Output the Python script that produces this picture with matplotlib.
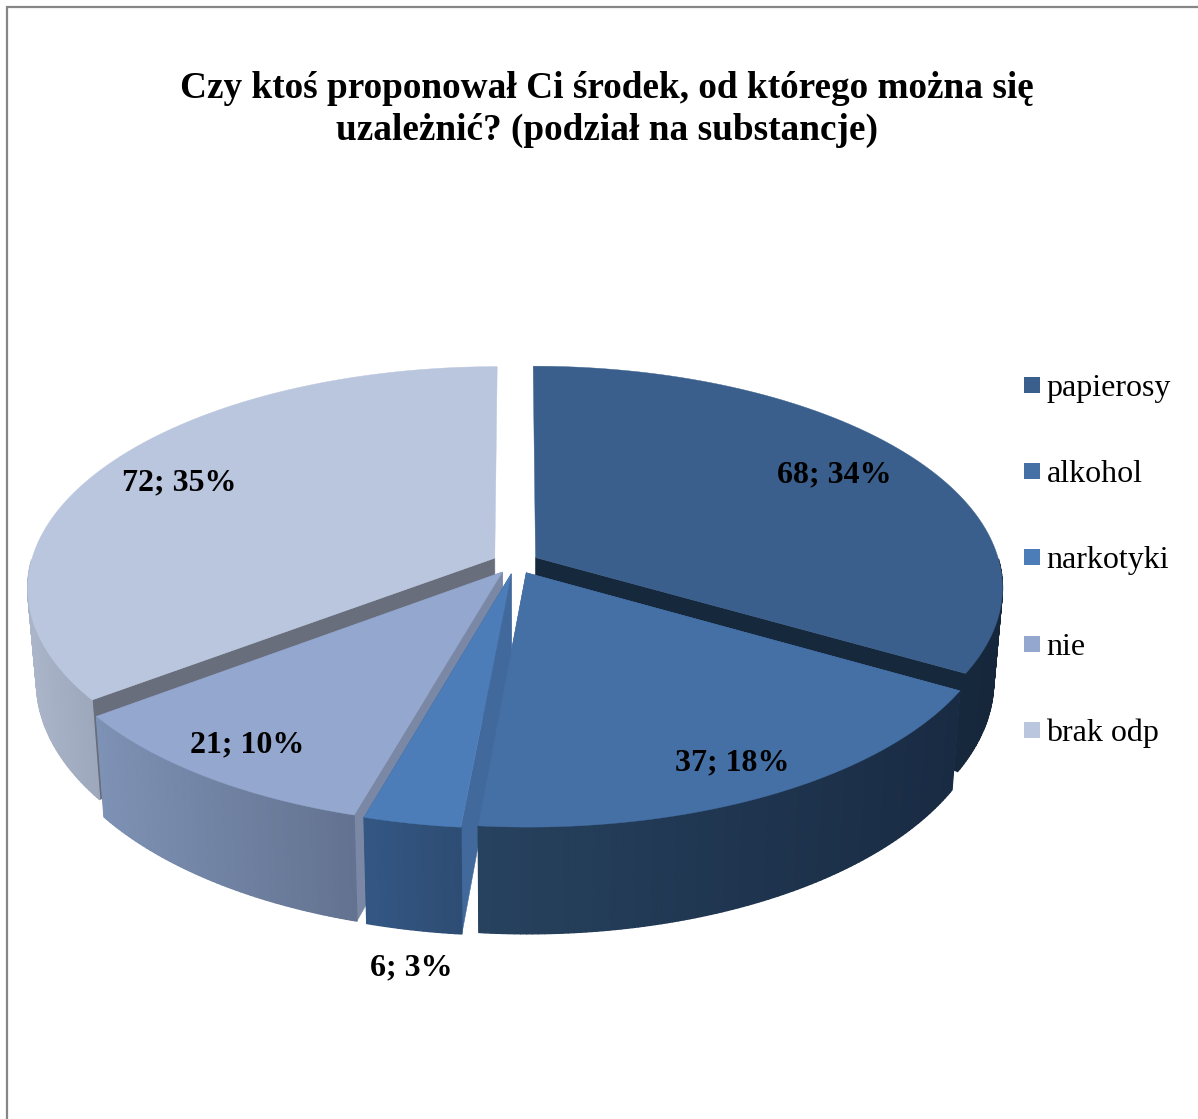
import numpy as np
import matplotlib
matplotlib.use("Agg")
import matplotlib.pyplot as plt
from matplotlib.collections import PolyCollection
from matplotlib.colors import to_rgb
from matplotlib.patches import Rectangle

title = "Czy ktoś proponował Ci środek, od którego można się\nuzależnić? (podział na substancje)"
categories = ["papierosy", "alkohol", "narkotyki", "nie", "brak odp"]
values = [68, 37, 6, 21, 72]
percents = [34, 18, 3, 10, 35]

top_colors = ["#3a5f8c", "#4570a6", "#4c7db8", "#93a7cf", "#b9c6de"]
side_left = ["#17283d", "#27425f", "#345784", "#7e92b5", "#aab5c9"]
side_right = ["#16273b", "#192b43", "#2e4d74", "#637290", "#9da8bc"]
face_colors = ["#16283c", "#3f6a9e", "#41699c", "#7b88a5", "#686e7b"]
draw_order = [0, 4, 3, 2, 1]
label_xy = [(834, 475), (732, 763), (411, 968), (247, 745), (179, 483)]
legend_y = [385, 471, 557, 644, 730]

CX, CY, A, B, P = 515.5, 563, 464, 218, 0.132
EXPLODE, DROP, TAPER = 0.05, 92, 0.982

plt.rcParams["font.family"] = ["Liberation Serif", "DejaVu Serif"]
fig = plt.figure(figsize=(11.98, 11.19), dpi=100)
ax = fig.add_axes([0, 0, 1, 1])
ax.set_xlim(0, 1198)
ax.set_ylim(1119, 0)
ax.axis("off")

# chart frame (left and top edges are what remains visible)
ax.plot([7, 7, 1198], [1119, 7, 7], color="#868686", lw=1.6, solid_joinstyle="miter")


def project(X, Y, bottom=False):
    s = 1 / (1 + P * Y)
    if bottom:
        return CX + TAPER * A * X * s, CY - B * Y * s + DROP * s
    return CX + A * X * s, CY - B * Y * s


edges = np.cumsum([0] + values) / sum(values) * 2 * np.pi

for layer, i in enumerate(draw_order):
    z = 2 + layer
    t0, t1 = edges[i], edges[i + 1]
    mid = (t0 + t1) / 2
    ox, oy = EXPLODE * np.sin(mid), EXPLODE * np.cos(mid)
    th = np.linspace(t0, t1, max(int((t1 - t0) * 90), 8))
    rx, ry = ox + np.sin(th), oy + np.cos(th)
    tx, ty = project(rx, ry)
    bx, by = project(rx, ry, True)
    ax_t, ay_t = project(ox, oy)
    ax_b, ay_b = project(ox, oy, True)

    # cut faces at the radial edges that can be seen from the front
    for j in (0, -1):
        if np.cos(th[j]) < 0.5:
            ax.fill([ax_t, tx[j], bx[j], ax_b], [ay_t, ty[j], by[j], ay_b],
                    color=face_colors[i], lw=0.4, zorder=z)

    # outer wall on the front part: solid base, then left-to-right shading
    c0, c1 = np.array(to_rgb(side_left[i])), np.array(to_rgb(side_right[i]))
    front = np.cos(th) < 0.0
    fx, fy, gx, gy = tx[front], ty[front], bx[front], by[front]
    ax.fill(np.r_[fx, gx[::-1]], np.r_[fy, gy[::-1]], color=(c0 + c1) / 2, lw=0, zorder=z + 0.1)
    quads, cols = [], []
    for k in range(len(fx) - 1):
        quads.append([(fx[k], fy[k]), (fx[k + 1], fy[k + 1]), (gx[k + 1], gy[k + 1]), (gx[k], gy[k])])
        f = np.clip((fx[k] - fx.min()) / max(fx.max() - fx.min(), 1), 0, 1)
        cols.append(c0 + (c1 - c0) * f)
    ax.add_collection(PolyCollection(quads, facecolors=cols, edgecolors=cols, linewidths=1.0, zorder=z + 0.2))

    # top surface
    ax.fill(np.r_[ax_t, tx], np.r_[ay_t, ty], color=top_colors[i], lw=0.3, zorder=z + 0.5)

for (x, y), v, p in zip(label_xy, values, percents):
    ax.text(x, y, f"{v}; {p}%", ha="center", va="center", fontsize=23, fontweight="bold", color="black", zorder=20)

ax.text(607, 109.5, title, ha="center", va="center", fontsize=26.85, fontweight="bold",
        color="black", linespacing=1.26, zorder=20)

for name, col, y in zip(categories, top_colors, legend_y):
    ax.add_patch(Rectangle((1024, y - 8), 16, 16, facecolor=col, edgecolor="none", zorder=20))
    ax.text(1046.5, y, name, ha="left", va="center_baseline", fontsize=23, color="black", zorder=20)

fig.savefig("out.png", dpi=100, facecolor="white")
